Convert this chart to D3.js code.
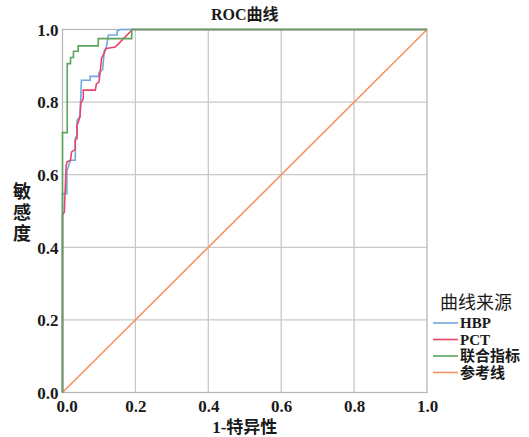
<!DOCTYPE html>
<html>
<head>
<meta charset="utf-8">
<script src="https://cdn.jsdelivr.net/npm/d3@7"></script>
<style>
  body { margin: 0; background: #fff; }
  text { font-family: "Liberation Serif", "Noto Sans CJK SC", serif; fill: #1a1a1a; }
</style>
</head>
<body>
<svg id="chart" width="529" height="437"></svg>
<script>
const title = "ROC曲线";
const xTitle = "1-特异性";
const yTitle = ["敏", "感", "度"];
const legendTitle = "曲线来源";
const ticks = [0, 0.2, 0.4, 0.6, 0.8, 1.0];

const seriesNames = ["HBP", "PCT", "联合指标", "参考线"];
const seriesColors = ["#72a7dc", "#e8456c", "#5aa55a", "#f89160"];

const hbpX = [0, 0, 0.012, 0.012, 0.022, 0.035, 0.035, 0.04, 0.04, 0.048, 0.052, 0.076, 0.076, 0.099, 0.099, 0.11, 0.115, 0.12, 0.126, 0.15, 0.15, 0.16, 1];
const hbpY = [0, 0.548, 0.548, 0.61, 0.64, 0.64, 0.70, 0.71, 0.75, 0.76, 0.86, 0.86, 0.871, 0.871, 0.879, 0.89, 0.943, 0.95, 0.985, 0.985, 0.996, 1, 1];

const pctX = [0, 0, 0.005, 0.01, 0.012, 0.012, 0.022, 0.025, 0.035, 0.035, 0.04, 0.04, 0.048, 0.05, 0.057, 0.057, 0.09, 0.093, 0.1, 0.103, 0.107, 0.12, 0.145, 0.19, 0.19, 1];
const pctY = [0, 0.488, 0.497, 0.626, 0.63, 0.635, 0.64, 0.663, 0.67, 0.695, 0.70, 0.735, 0.76, 0.796, 0.81, 0.833, 0.833, 0.85, 0.855, 0.88, 0.92, 0.948, 0.952, 0.998, 1, 1];

const combX = [0, 0, 0.013, 0.013, 0.022, 0.022, 0.03, 0.03, 0.043, 0.043, 0.098, 0.098, 0.19, 0.19, 1];
const combY = [0, 0.716, 0.716, 0.906, 0.906, 0.923, 0.923, 0.94, 0.94, 0.955, 0.955, 0.975, 0.975, 1, 1];

const refX = [0, 1];
const refY = [0, 1];

const svg = d3.select("#chart");
const x = d3.scaleLinear().domain([0, 1]).range([62.5, 427]);
const y = d3.scaleLinear().domain([0, 1]).range([392.5, 29.5]);

// grid
const g = svg.append("g");
g.selectAll(".vg").data(ticks.slice(1, -1)).join("line")
  .attr("x1", d => x(d)).attr("x2", d => x(d))
  .attr("y1", y(0)).attr("y2", y(1))
  .attr("stroke", "#c8c8c8").attr("stroke-width", 1.3);
g.selectAll(".hg").data(ticks.slice(1, -1)).join("line")
  .attr("y1", d => y(d)).attr("y2", d => y(d))
  .attr("x1", x(0)).attr("x2", x(1))
  .attr("stroke", "#c8c8c8").attr("stroke-width", 1.3);
// frame
g.append("rect").attr("x", x(0)).attr("y", y(1))
  .attr("width", x(1) - x(0)).attr("height", y(0) - y(1))
  .attr("fill", "none").attr("stroke", "#b8b8b8").attr("stroke-width", 1.3);

// axes
const xAxis = d3.axisBottom(x).tickValues(ticks).tickFormat(d3.format(".1f")).tickSize(0).tickPadding(7);
const yAxis = d3.axisLeft(y).tickValues(ticks).tickFormat(d3.format(".1f")).tickSize(0).tickPadding(4);
const xa = svg.append("g").attr("transform", `translate(0,${y(0)})`).call(xAxis);
const ya = svg.append("g").attr("transform", `translate(${x(0)},0)`).call(yAxis);
[xa, ya].forEach(a => {
  a.select(".domain").remove();
  a.selectAll("text").style("font-family", '"Liberation Serif", serif')
    .style("font-size", "17px").style("font-weight", "bold").attr("fill", "#1a1a1a");
});
ya.selectAll("text").attr("dy", "0.34em");
xa.selectAll("text").filter(d => d === 0).attr("dx", "4px");

// lines
const series = [[hbpX, hbpY], [pctX, pctY], [combX, combY], [refX, refY]];
const line = d3.line().x(d => x(d[0])).y(d => y(d[1]));
const drawOrder = [3, 0, 1, 2];
drawOrder.forEach(i => {
  const pts = series[i][0].map((v, k) => [v, series[i][1][k]]);
  svg.append("path").datum(pts).attr("d", line)
    .attr("fill", "none").attr("stroke", seriesColors[i]).attr("stroke-width", 1.6);
});

// titles
svg.append("text").attr("x", (x(0) + x(1)) / 2).attr("y", 20)
  .attr("text-anchor", "middle").style("font-size", "16px").style("font-weight", "bold").text(title);
svg.append("text").attr("x", (x(0) + x(1)) / 2).attr("y", 433)
  .attr("text-anchor", "middle").style("font-size", "17px").style("font-weight", "bold").text(xTitle);
svg.selectAll(".yt").data(yTitle).join("text")
  .attr("x", 22).attr("y", (d, i) => 198 + i * 21)
  .attr("text-anchor", "middle").style("font-size", "18px").style("font-weight", "bold").text(d => d);

// legend
svg.append("text").attr("x", 476).attr("y", 309).attr("text-anchor", "middle")
  .style("font-size", "18px").text(legendTitle);
const lg = svg.selectAll(".lg").data(seriesNames).join("g")
  .attr("transform", (d, i) => `translate(433,${323 + i * 16.5})`);
lg.append("line").attr("x1", 0).attr("x2", 25).attr("y1", 0).attr("y2", 0)
  .attr("stroke", (d, i) => seriesColors[i]).attr("stroke-width", 1.6);
lg.append("text").attr("x", 27).attr("y", 0).attr("dy", "0.35em")
  .style("font-size", "15px").style("font-weight", "bold").text(d => d);
</script>
</body>
</html>
